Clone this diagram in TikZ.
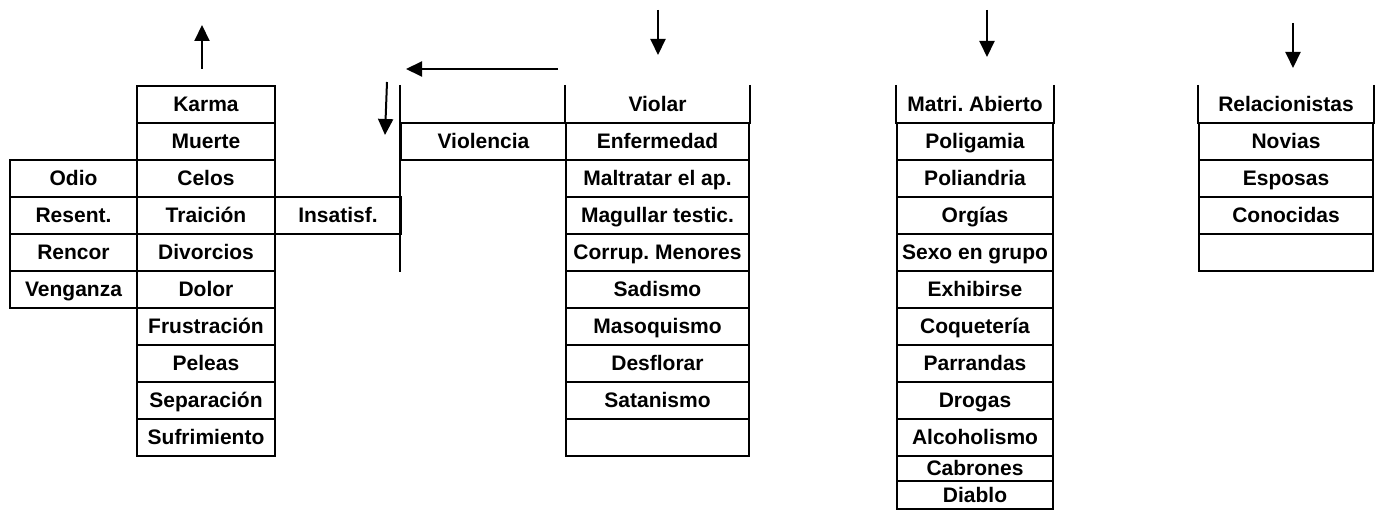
\documentclass[tikz,border=0pt]{standalone}
\usepackage{fontspec}
\setmainfont{Liberation Sans}
\usetikzlibrary{arrows.meta}
\frenchspacing
\begin{document}
\begin{tikzpicture}[x=1pt,y=-1pt,line width=2pt,
  cell/.style={inner sep=0pt,anchor=north west,minimum height=37pt,
    text height=15pt,text depth=0pt,font=\fontsize{21}{24}\selectfont\bfseries},
  box/.style={cell,draw},
  arr/.style={-{Triangle[length=16pt,width=15pt]},line width=2pt}]
\useasboundingbox (0,0) rectangle (1377,510);
% column A
\foreach \t [count=\i from 2] in {Odio,Resent.,Rencor,Venganza}
  \node[box,minimum width=127pt] (a\i) at (9,{85+37*\i}) {\t};
% column B
\foreach \t [count=\i from 0] in {Karma,Muerte,Celos,Traición,Divorcios,Dolor,Frustración,Peleas,Separación,Sufrimiento}
  \node[box,minimum width=138pt] (b\i) at (136,{85+37*\i}) {\t};
% column C
\node[box,minimum width=126pt] (c3) at (274,196) {Insatisf.};
\coordinate (ctop) at (400,85);
\coordinate (cbot) at (400,272);
\draw (ctop) -- (cbot);
% column D
\node[box,minimum width=165pt] (d1) at (400,122) {Violencia};
% column E
\node[cell,minimum width=183pt] (e0) at (565,85) {Violar};
\draw (e0.north west) -- (e0.south west) (e0.north east) -- (e0.south east);
\foreach \t [count=\i from 1] in {Enfermedad,Maltratar el ap.,Magullar testic.,Corrup. Menores,Sadismo,Masoquismo,Desflorar,Satanismo,{}}
  \node[box,minimum width=183pt] (e\i) at (565,{85+37*\i}) {\t};
% column F
\node[cell,minimum width=156pt] (f0) at (896,85) {Matri. Abierto};
\draw (f0.north west) -- (f0.south west) (f0.north east) -- (f0.south east);
\foreach \t [count=\i from 1] in {Poligamia,Poliandria,Orgías,Sexo en grupo,Exhibirse,Coquetería,Parrandas,Drogas,Alcoholismo}
  \node[box,minimum width=156pt] (f\i) at (896,{85+37*\i}) {\t};
\node[box,minimum width=156pt,minimum height=25pt] (f10) at (896,455) {Cabrones};
\node[box,minimum width=156pt,minimum height=28pt] (f11) at (896,480) {Diablo};
% column G
\node[cell,minimum width=174pt] (g0) at (1198,85) {Relacionistas};
\draw (g0.north west) -- (g0.south west) (g0.north east) -- (g0.south east);
\foreach \t [count=\i from 1] in {Novias,Esposas,Conocidas,{}}
  \node[box,minimum width=174pt] (g\i) at (1198,{85+37*\i}) {\t};
% arrows
\coordinate (u1) at (202,69); \coordinate (u2) at (202,25);
\coordinate (s1) at (387,82); \coordinate (s2) at (385,135);
\coordinate (l1) at (558,69); \coordinate (l2) at (406,69);
\coordinate (v1) at (658,10); \coordinate (v2) at (658,55);
\coordinate (m1) at (987,10); \coordinate (m2) at (987,57);
\coordinate (r1) at (1293,23); \coordinate (r2) at (1293,68);
\draw[arr] (u1) -- (u2);
\draw[arr] (s1) -- (s2);
\draw[arr] (l1) -- (l2);
\draw[arr] (v1) -- (v2);
\draw[arr] (m1) -- (m2);
\draw[arr] (r1) -- (r2);
\end{tikzpicture}
\end{document}
